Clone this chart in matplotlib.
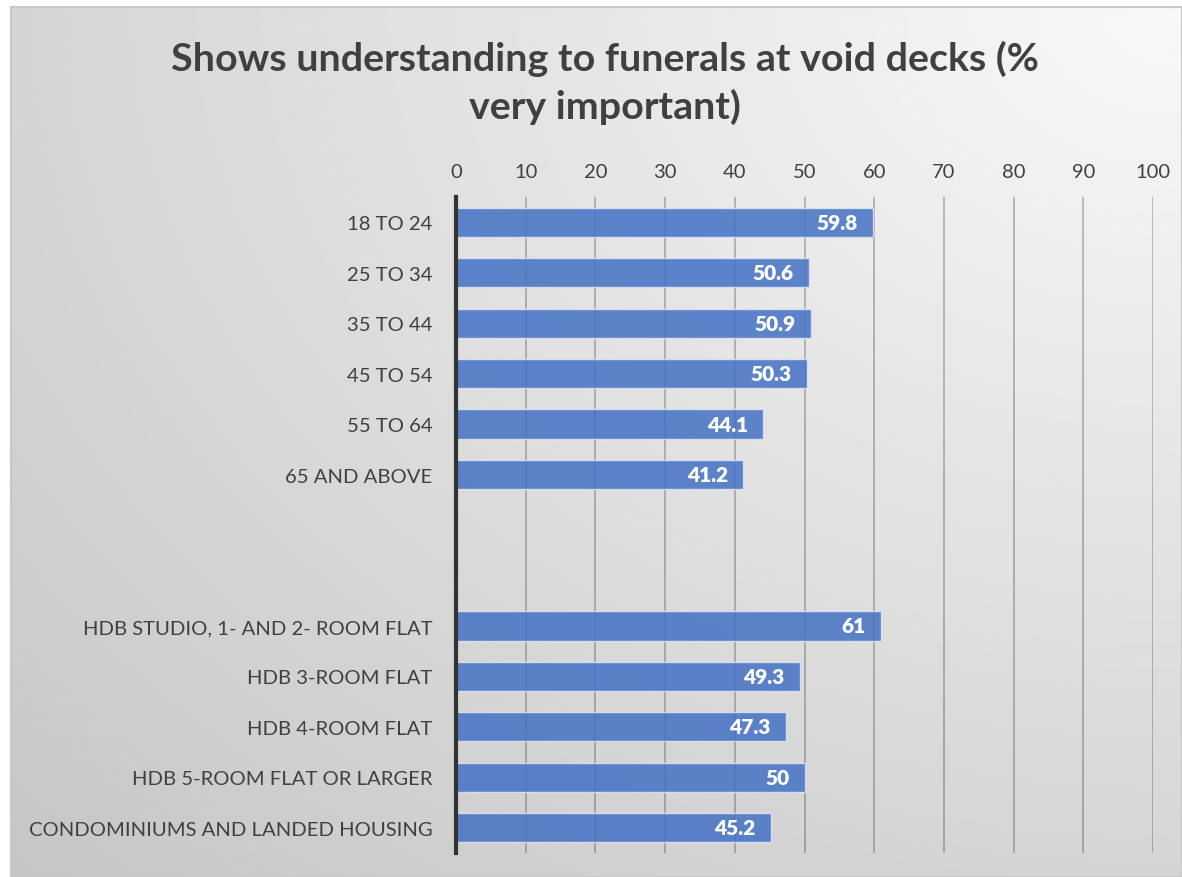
import numpy as np
import matplotlib.pyplot as plt
from matplotlib.patches import Rectangle

plt.rcParams['font.family'] = ['Lato', 'DejaVu Sans']

title = 'Shows understanding to funerals at void decks (%\nvery important)'
age_groups = ['18 TO 24', '25 TO 34', '35 TO 44', '45 TO 54', '55 TO 64', '65 AND ABOVE']
age_values = [59.8, 50.6, 50.9, 50.3, 44.1, 41.2]
housing_types = ['HDB STUDIO, 1- AND 2- ROOM FLAT', 'HDB 3-ROOM FLAT', 'HDB 4-ROOM FLAT',
                 'HDB 5-ROOM FLAT OR LARGER', 'CONDOMINIUMS AND LANDED HOUSING']
housing_values = [61, 49.3, 47.3, 50, 45.2]
x_ticks = list(range(0, 101, 10))

# two empty rows separate the age block from the housing block
labels = age_groups + ['', ''] + housing_types
values = age_values + [None, None] + housing_values

text_color = '#404040'
bar_color = '#4472C4'

fig = plt.figure(figsize=(11.82, 8.78), dpi=100)

# chart area background: soft diagonal gradient, light top-right to grey bottom-left
bg = fig.add_axes([11 / 1182, 0, 1 - 11 / 1182, 1 - 8 / 878], zorder=-2)
gx, gy = np.meshgrid(np.linspace(0, 1, 300), np.linspace(0, 1, 300))
dist = np.sqrt((1 - gx) ** 2 + gy ** 2) / np.sqrt(2)
shade = 0.975 - 0.20 * dist
bg.imshow(shade, cmap='gray', vmin=0, vmax=1, aspect='auto', extent=(0, 1, 0, 1), origin='upper')
bg.set_xlim(0, 1)
bg.set_ylim(0, 1)
bg.axis('off')
fig.patches.append(Rectangle((11 / 1182, 0), 1 - 11 / 1182, 1 - 8 / 878, transform=fig.transFigure,
                             fill=False, edgecolor='#c8c8c8', linewidth=1.5, zorder=-1))

ax = fig.add_axes([456 / 1182, 24 / 878, 697 / 1182, 656 / 878])
ax.set_facecolor('none')

ypos = np.arange(len(labels))
for y, v in zip(ypos, values):
    if v is None:
        continue
    ax.barh(y, v, height=0.58, color=bar_color, alpha=0.85, edgecolor='#dfe6f3', linewidth=1, zorder=3)
    ax.annotate(f'{v:g}', (v, y), xytext=(-11, 0), textcoords='offset points', ha='right', va='center',
                color='white', fontsize=15, fontweight='heavy', zorder=4)

ax.set_xlim(0, 100)
ax.set_ylim(len(labels) - 0.5, -0.5)
ax.set_xticks(x_ticks)
ax.set_yticks(ypos)
ax.set_yticklabels(labels)
ax.xaxis.tick_top()
ax.tick_params(axis='x', length=0, pad=12, labelsize=14.5, labelcolor=text_color)
ax.tick_params(axis='y', length=0, pad=17, labelsize=14.6, labelcolor=text_color)
ax.grid(axis='x', color='black', alpha=0.25, linewidth=1.3, zorder=0)
ax.set_axisbelow(True)
for side in ('top', 'right', 'bottom'):
    ax.spines[side].set_visible(False)
ax.spines['left'].set_color('#333333')
ax.spines['left'].set_linewidth(3)
ax.spines['left'].set_zorder(5)

fig.text(605 / 1182, 1 - 83 / 878, title, ha='center', va='center', fontsize=28.4, fontweight='bold',
         color=text_color, linespacing=1.38)

fig.savefig('out.png', dpi=100)
